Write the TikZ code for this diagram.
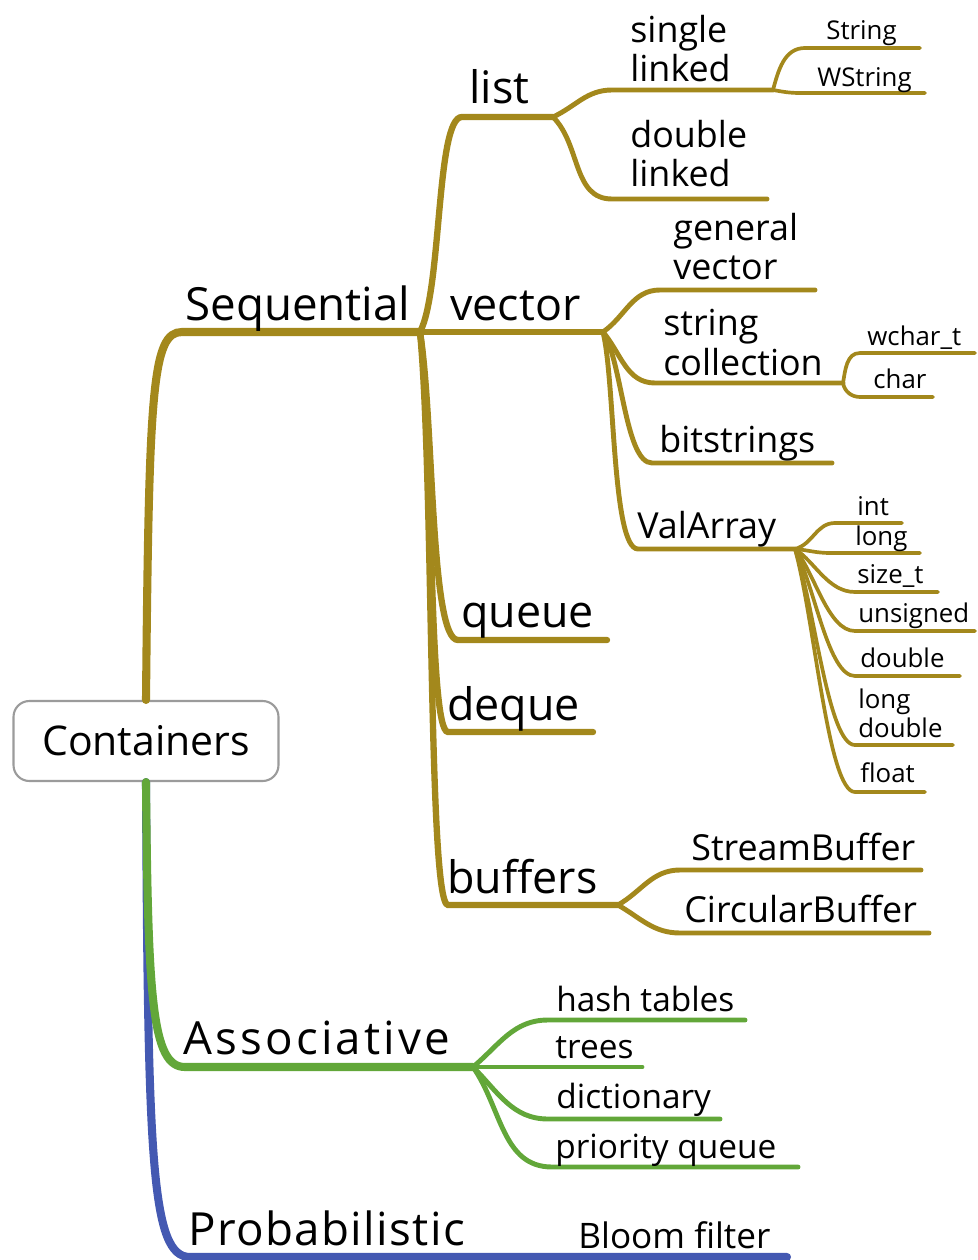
\documentclass[tikz,border=0pt]{standalone}
\usepackage{fontspec}
\setmainfont{Open Sans}
\usepackage{tikz}

\definecolor{seqcol}{RGB}{163,136,28}
\definecolor{asscol}{RGB}{98,167,57}
\definecolor{probcol}{RGB}{68,89,178}
\definecolor{boxgray}{RGB}{155,155,155}

\tikzset{
  lv1/.style={anchor=base west, inner sep=0pt, font=\fontsize{26}{30}\selectfont},
  lv2/.style={anchor=base west, inner sep=0pt, font=\fontsize{25.5}{30}\selectfont},
  lv3/.style={anchor=base west, inner sep=0pt, align=left, font=\fontsize{20.4}{22.6}\selectfont},
  lv3s/.style={anchor=base west, inner sep=0pt, font=\fontsize{19}{22}\selectfont},
  lv4/.style={anchor=base west, inner sep=0pt, align=left, font=\fontsize{14.7}{16.4}\selectfont},
  br1/.style={line width=4.6pt, line cap=round},
  br2/.style={line width=3.6pt, line cap=round},
  br3/.style={line width=2.8pt, line cap=round},
  br4/.style={line width=2.1pt, line cap=round},
}

\begin{document}
\begin{tikzpicture}[x=0.02cm, y=-0.02cm]
  \useasboundingbox (0,0) rectangle (977,1260);

  % Root box
  \node[draw=boxgray, line width=1.2pt, rounded corners=9pt, fill=white,
        minimum width=5.3cm, minimum height=1.6cm,
        font=\fontsize{23.3}{28}\selectfont] (root) at (146,741) {Containers};

  % Branch ends and junctions
  \coordinate (seqE) at (420,332);
  \coordinate (lstE) at (553,117);
  \coordinate (sglE) at (773,90);
  \coordinate (strE) at (920,48);
  \coordinate (wstrE) at (925,93);
  \coordinate (dblE) at (767,199);
  \coordinate (vecE) at (603,332);
  \coordinate (genE) at (815,290);
  \coordinate (scolE) at (843,383);
  \coordinate (wchE) at (975,353);
  \coordinate (chrE) at (933,397);
  \coordinate (bitsE) at (832,463);
  \coordinate (valE) at (795,549);
  \coordinate (intE) at (902,523);
  \coordinate (longE) at (920,553);
  \coordinate (sizeE) at (938,592);
  \coordinate (unsE) at (975,631);
  \coordinate (dblvE) at (960,676);
  \coordinate (ldblE) at (953,745);
  \coordinate (fltE) at (925,792);
  \coordinate (queE) at (607,640);
  \coordinate (deqE) at (593,732);
  \coordinate (bufE) at (618,905);
  \coordinate (sbufE) at (921,870);
  \coordinate (cbufE) at (929,933);
  \coordinate (assE) at (473,1067);
  \coordinate (hashE) at (745,1020);
  \coordinate (treeE) at (642,1067);
  \coordinate (dictE) at (720,1119);
  \coordinate (prioE) at (798,1167);
  \coordinate (bloomE) at (787,1257);

  % Sequential
  \draw[br1, seqcol] (root.north) .. controls (149,390) and (152,332) .. (182,332) -- (seqE);
  \draw[br2, seqcol] (seqE) .. controls (442,290) and (436,117) .. (462,117) -- (lstE);
  \draw[br2, seqcol] (seqE) -- (vecE);
  \draw[br2, seqcol] (seqE) .. controls (434,420) and (430,640) .. (458,640) -- (queE);
  \draw[br2, seqcol] (seqE) .. controls (434,440) and (428,732) .. (448,732) -- (deqE);
  \draw[br2, seqcol] (seqE) .. controls (434,480) and (428,905) .. (448,905) -- (bufE);

  % list
  \draw[br3, seqcol] (lstE) to[out=25,in=180] (612,90) -- (sglE);
  \draw[br3, seqcol] (lstE) to[out=-45,in=180] (612,199) -- (dblE);
  \draw[br4, seqcol] (sglE) to[out=75,in=180] (805,48) -- (strE);
  \draw[br4, seqcol] (sglE) to[out=-10,in=180] (800,93) -- (wstrE);

  % vector
  \draw[br3, seqcol] (vecE) to[out=35,in=180] (660,290) -- (genE);
  \draw[br3, seqcol] (vecE) to[out=-50,in=180] (655,383) -- (scolE);
  \draw[br4, seqcol] (scolE) to[out=80,in=180] (860,353) -- (wchE);
  \draw[br4, seqcol] (scolE) to[out=-80,in=180] (860,397) -- (chrE);
  \draw[br3, seqcol] (vecE) .. controls (622,360) and (625,463) .. (652,463) -- (bitsE);
  \draw[br3, seqcol] (vecE) .. controls (615,380) and (612,549) .. (638,549) -- (valE);

  % ValArray
  \draw[br4, seqcol] (valE) to[out=15,in=180] (835,523) -- (intE);
  \draw[br4, seqcol] (valE) to[out=-5,in=180] (830,553) -- (longE);
  \foreach \n/\y in {sizeE/592, unsE/631, dblvE/676, ldblE/745, fltE/792}{
    \draw[br4, seqcol] (valE) .. controls (815,{549+0.3*(\y-549)}) and (828,\y) .. (855,\y) -- (\n);
  }

  % buffers
  \draw[br3, seqcol] (bufE) to[out=30,in=180] (680,870) -- (sbufE);
  \draw[br3, seqcol] (bufE) to[out=-30,in=180] (680,933) -- (cbufE);

  % Probabilistic and Associative
  \draw[br1, probcol] (root.south) .. controls (148,1160) and (151,1257) .. (190,1257) -- (bloomE);
  \draw[br1, asscol] (root.south) .. controls (148,1000) and (152,1067) .. (185,1067) -- (assE);
  \draw[br3, asscol] (assE) to[out=40,in=180] (548,1020) -- (hashE);
  \draw[br3, asscol] (assE) -- (treeE);
  \draw[br3, asscol] (assE) to[out=-45,in=180] (548,1119) -- (dictE);
  \draw[br3, asscol] (assE) to[out=-55,in=180] (552,1167) -- (prioE);

  % Labels
  \node[lv1] (seq) at (185,320) {Sequential};
  \node[lv1, font=\fontsize{26}{30}\selectfont\addfontfeature{LetterSpace=7}] (ass) at (183,1054) {Associative};
  \node[lv1, font=\fontsize{26}{30}\selectfont\addfontfeature{LetterSpace=3}] (prob) at (188,1245) {Probabilistic};

  \node[lv2] (lst) at (469,104) {list};
  \node[lv2] (vec) at (450,320) {vector};
  \node[lv2] (que) at (461,627) {queue};
  \node[lv2] (deq) at (447,720) {deque};
  \node[lv2] (buf) at (447,893) {buffers};

  \node[lv3] (sgl) at (630,82) {single\\linked};
  \node[lv3] (dbl) at (630,187) {double\\linked};
  \node[lv3] (gen) at (673,280) {general\\vector};
  \node[lv3] (scol) at (663,375) {string\\collection};
  \node[lv3] (bits) at (659,452) {bitstrings};
  \node[lv3] (val) at (637,538) {ValArray};
  \node[lv3] (sbuf) at (691,860) {StreamBuffer};
  \node[lv3] (cbuf) at (684,922) {CircularBuffer};

  \node[lv3s] (hash) at (556,1011) {hash tables};
  \node[lv3s] (tree) at (555,1058) {trees};
  \node[lv3s] (dict) at (556,1108) {dictionary};
  \node[lv3s] (prio) at (555,1158) {priority queue};
  \node[lv3s, font=\fontsize{20}{22}\selectfont] (bloom) at (578,1248) {Bloom filter};

  \node[lv4] (str) at (826,40) {String};
  \node[lv4] (wstr) at (817,87) {WString};
  \node[lv4] (wch) at (867,345) {wchar\_t};
  \node[lv4] (chr) at (873,388) {char};
  \node[lv4] (int) at (857,515) {int};
  \node[lv4] (long) at (855,545) {long};
  \node[lv4] (size) at (857,583) {size\_t};
  \node[lv4] (uns) at (858,622) {unsigned};
  \node[lv4] (dblv) at (860,667) {double};
  \node[lv4] (ldbl) at (858,737) {long\\double};
  \node[lv4] (flt) at (860,782) {float};

\end{tikzpicture}
\end{document}
